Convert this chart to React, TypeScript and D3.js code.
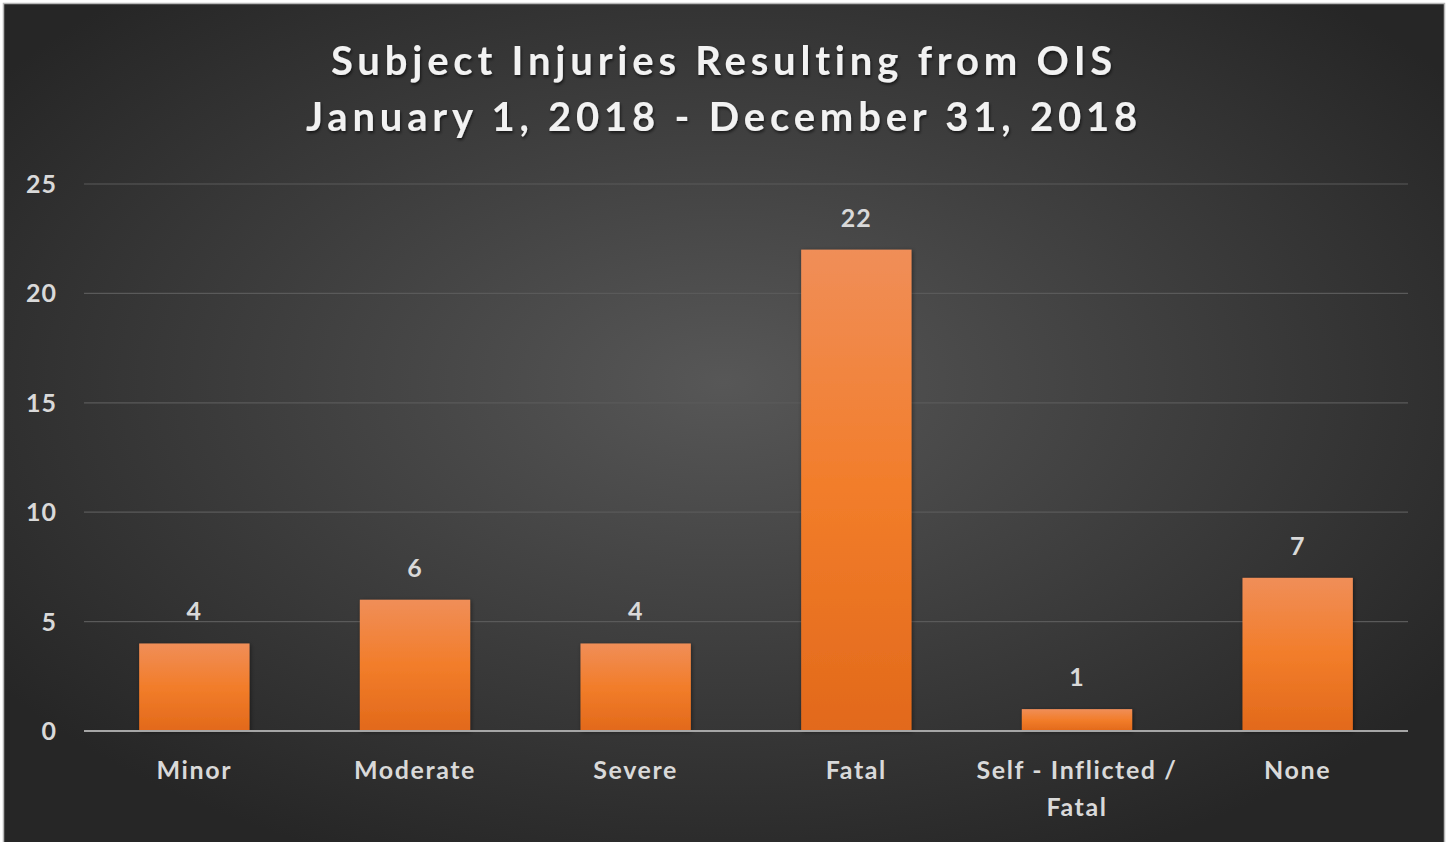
import React, { useEffect, useRef } from 'react';
import * as d3 from 'd3';

const categories = ['Minor', 'Moderate', 'Severe', 'Fatal', 'Self - Inflicted / Fatal', 'None'];
const categoryLines = [['Minor'], ['Moderate'], ['Severe'], ['Fatal'], ['Self - Inflicted /', 'Fatal'], ['None']];
const values = [4, 6, 4, 22, 1, 7];
const yTicks = [0, 5, 10, 15, 20, 25];
const titleLines = ['Subject Injuries Resulting from OIS', 'January 1, 2018 - December 31, 2018'];

const W = 1447;
const H = 842;

const App = () => {
  const svgRef = useRef<SVGSVGElement>(null);

  useEffect(() => {
    document.body.style.margin = '0';
    const svg = d3.select(svgRef.current);
    svg.selectAll('*').remove();

    const font = 'Lato, "Open Sans", sans-serif';
    const margin = { top: 184, right: 39, bottom: 111, left: 84 };
    const width = W - margin.left - margin.right;
    const height = H - margin.top - margin.bottom;

    const defs = svg.append('defs');

    // panel background: radial, lighter in the middle
    const bg = defs.append('radialGradient')
      .attr('id', 'bgGrad')
      .attr('cx', '50%').attr('cy', '45%').attr('r', '62%');
    bg.append('stop').attr('offset', '0%').attr('stop-color', '#575757');
    bg.append('stop').attr('offset', '100%').attr('stop-color', '#262626');

    // bar fill
    const barGrad = defs.append('linearGradient')
      .attr('id', 'barGrad')
      .attr('x1', 0).attr('x2', 0).attr('y1', 0).attr('y2', 1);
    barGrad.append('stop').attr('offset', '0%').attr('stop-color', '#f08e58');
    barGrad.append('stop').attr('offset', '50%').attr('stop-color', '#f27d2a');
    barGrad.append('stop').attr('offset', '100%').attr('stop-color', '#e2691b');

    const shadow = defs.append('filter').attr('id', 'barShadow')
      .attr('x', '-20%').attr('y', '-20%').attr('width', '140%').attr('height', '140%');
    shadow.append('feDropShadow')
      .attr('dx', 1).attr('dy', 1).attr('stdDeviation', 2)
      .attr('flood-color', '#000').attr('flood-opacity', 0.45);

    const tShadow = defs.append('filter').attr('id', 'textShadow')
      .attr('x', '-10%').attr('y', '-30%').attr('width', '120%').attr('height', '160%');
    tShadow.append('feDropShadow')
      .attr('dx', 1).attr('dy', 2).attr('stdDeviation', 1.5)
      .attr('flood-color', '#000').attr('flood-opacity', 0.6);

    // white page + panel border
    svg.append('rect').attr('width', W).attr('height', H).attr('fill', '#fff');
    svg.append('rect')
      .attr('x', 3.5).attr('y', 3.5)
      .attr('width', 1441).attr('height', H)
      .attr('fill', 'url(#bgGrad)')
      .attr('stroke', '#b8b8b8')
      .attr('stroke-width', 1.5);

    // title
    svg.append('text')
      .attr('x', 722)
      .attr('text-anchor', 'middle')
      .attr('fill', '#f2f2f2')
      .style('font-family', font)
      .style('font-size', '40px')
      .style('font-weight', 700)
      .style('letter-spacing', '4.8px')
      .attr('filter', 'url(#textShadow)')
      .selectAll('tspan')
      .data(titleLines)
      .join('tspan')
      .attr('x', 724)
      .attr('y', (d, i) => 75 + i * 56)
      .text(d => d);

    const g = svg.append('g')
      .attr('transform', `translate(${margin.left},${margin.top})`);

    const x = d3.scaleBand<string>()
      .domain(categories)
      .range([0, width])
      .paddingInner(0.5)
      .paddingOuter(0.25);

    const y = d3.scaleLinear()
      .domain([0, 25])
      .range([height, 0]);

    // gridlines
    g.append('g')
      .selectAll('line')
      .data(yTicks.filter(t => t > 0))
      .join('line')
      .attr('x1', 0).attr('x2', width)
      .attr('y1', d => y(d)).attr('y2', d => y(d))
      .attr('stroke', '#5a5a5a')
      .attr('stroke-width', 1.2);

    // y-axis labels
    g.append('g')
      .selectAll('text')
      .data(yTicks)
      .join('text')
      .attr('x', -27)
      .attr('y', d => y(d) + 9)
      .attr('text-anchor', 'end')
      .attr('fill', '#d9d9d9')
      .style('font-family', font)
      .style('font-size', '25px')
      .style('font-weight', 700)
      .style('letter-spacing', '1px')
      .text(d => d);

    // bars
    g.append('g')
      .selectAll('rect')
      .data(values)
      .join('rect')
      .attr('x', (d, i) => x(categories[i]) as number)
      .attr('y', d => y(d))
      .attr('width', x.bandwidth())
      .attr('height', d => height - y(d))
      .attr('fill', 'url(#barGrad)')
      .attr('filter', 'url(#barShadow)');

    // value labels
    g.append('g')
      .selectAll('text')
      .data(values)
      .join('text')
      .attr('x', (d, i) => (x(categories[i]) as number) + x.bandwidth() / 2)
      .attr('y', d => y(d) - 23)
      .attr('text-anchor', 'middle')
      .attr('fill', '#d9d9d9')
      .style('font-family', font)
      .style('font-size', '25px')
      .style('font-weight', 700)
      .style('letter-spacing', '1px')
      .text(d => d);

    // baseline
    g.append('line')
      .attr('x1', 0).attr('x2', width)
      .attr('y1', height).attr('y2', height)
      .attr('stroke', '#a6a6a6')
      .attr('stroke-width', 2);

    // category labels
    const cat = g.append('g')
      .selectAll('text')
      .data(categories)
      .join('text')
      .attr('text-anchor', 'middle')
      .attr('fill', '#d9d9d9')
      .style('font-family', font)
      .style('font-size', '25px')
      .style('font-weight', 700)
      .style('letter-spacing', '1.6px');

    cat.selectAll('tspan')
      .data((d, i) => categoryLines[i].map(t => ({ t, c: d })))
      .join('tspan')
      .attr('x', d => (x(d.c) as number) + x.bandwidth() / 2)
      .attr('y', (d, j) => height + 48 + j * 37)
      .text(d => d.t);
  }, []);

  return (
    <div style={{ position: 'absolute', left: 0, top: 0 }}>
      <svg ref={svgRef} width={W} height={H} style={{ display: 'block' }} />
    </div>
  );
};

export default App;
